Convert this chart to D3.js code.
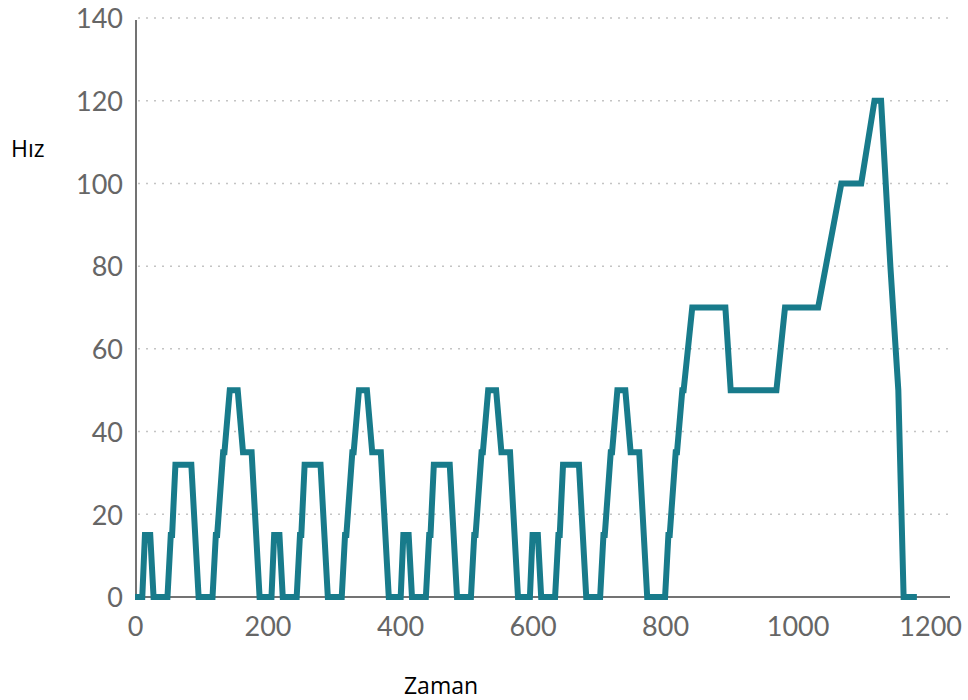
<!DOCTYPE html>
<html>
<head>
<meta charset="utf-8">
<script src="https://cdn.jsdelivr.net/npm/d3@7"></script>
<style>
  body { margin: 0; background: #fff; }
  .tick text { font-family: Lato, "Open Sans", sans-serif; font-weight: 400; fill: #666; }
  .axis-title { font-family: "Open Sans", sans-serif; fill: #000; }
</style>
</head>
<body>
<div id="chart-area"></div>
<script>
/*
*    speed profile (Zaman / Hız)
*/
var times = [
  0, 11, 15, 23, 28, 49, 54, 56, 61, 85, 96, 117, 122, 124, 133, 135, 143, 155, 163, 176, 188,
  195, 206, 210, 218, 223, 244, 249, 251, 256, 280, 291, 312, 317, 319, 328, 330, 338, 350, 358, 371, 383,
  390, 401, 405, 413, 418, 439, 444, 446, 451, 475, 486, 507, 512, 514, 523, 525, 533, 545, 553, 566, 578,
  585, 596, 600, 608, 613, 634, 639, 641, 646, 670, 681, 702, 707, 709, 718, 720, 728, 740, 748, 761, 773,
  800, 805, 807, 816, 818, 826, 828, 841, 891, 899, 968, 981, 1031, 1066, 1096, 1116, 1126, 1140, 1152, 1160, 1180
];
var speeds = [
  0, 0, 15, 15, 0, 0, 15, 15, 32, 32, 0, 0, 15, 15, 35, 35, 50, 50, 35, 35, 0,
  0, 0, 15, 15, 0, 0, 15, 15, 32, 32, 0, 0, 15, 15, 35, 35, 50, 50, 35, 35, 0,
  0, 0, 15, 15, 0, 0, 15, 15, 32, 32, 0, 0, 15, 15, 35, 35, 50, 50, 35, 35, 0,
  0, 0, 15, 15, 0, 0, 15, 15, 32, 32, 0, 0, 15, 15, 35, 35, 50, 50, 35, 35, 0,
  0, 15, 15, 35, 35, 50, 50, 70, 70, 50, 50, 70, 70, 100, 100, 120, 120, 80, 50, 0, 0
];
var xTicks = [0, 200, 400, 600, 800, 1000, 1200];
var yTicks = [0, 20, 40, 60, 80, 100, 120, 140];

var width = 968
var height = 700

var svg = d3.select("#chart-area")
  .append("svg")
  .attr("width", width)
  .attr("height", height)

var data = times.map((t, i) => { return { t: t, v: speeds[i] }; });

var x = d3.scaleLinear().domain([0, 1230]).range([135, 950]);
var y = d3.scaleLinear().domain([0, 140]).range([597, 18]);

// dotted grid
svg.append("g")
  .selectAll("line")
  .data(yTicks.filter((d) => { return d > 0; }))
  .enter().append("line")
  .attr("x1", x(0) + 3)
  .attr("x2", 953)
  .attr("y1", (d) => { return y(d); })
  .attr("y2", (d) => { return y(d); })
  .attr("stroke", "#c4c4c4")
  .attr("stroke-width", 1.5)
  .attr("stroke-dasharray", "2,6");

var leftAxis = d3.axisLeft(y).tickValues(yTicks).tickSize(0).tickPadding(13);
var bottomAxis = d3.axisBottom(x).tickValues(xTicks).tickSize(0).tickPadding(20)
  .tickFormat(d3.format("d"));

var yAxisGroup = svg.append("g")
  .attr("class", "left axis")
  .attr("transform", `translate(${x(0) + 1}, 0)`)
  .call(leftAxis);

var xAxisGroup = svg.append("g")
  .attr("class", "bottom axis")
  .attr("transform", `translate(0, ${y(0)})`)
  .call(bottomAxis);

svg.selectAll(".axis .domain").remove();
svg.selectAll(".tick text").attr("font-size", "27px");
yAxisGroup.selectAll(".tick text").attr("dy", "0.36em");

svg.append("line")
  .attr("x1", x(0) + 1).attr("x2", x(0) + 1)
  .attr("y1", y(140) + 2).attr("y2", y(0))
  .attr("stroke", "#444").attr("stroke-width", 1.5);
svg.append("line")
  .attr("x1", x(0)).attr("x2", 950)
  .attr("y1", y(0)).attr("y2", y(0))
  .attr("stroke", "#444").attr("stroke-width", 1.5);

var line = d3.line()
  .x((d) => { return x(d.t); })
  .y((d) => { return y(d.v); });

svg.append("path")
  .datum(data)
  .attr("d", line)
  .attr("fill", "none")
  .attr("stroke", "#187b8b")
  .attr("stroke-width", 6);

svg.append("text")
  .attr("class", "axis-title")
  .attr("x", 11)
  .attr("y", 157)
  .attr("font-size", "23px")
  .text("Hız");

svg.append("text")
  .attr("class", "axis-title")
  .attr("x", 441)
  .attr("y", 694)
  .attr("font-size", "23px")
  .attr("text-anchor", "middle")
  .text("Zaman");
</script>
</body>
</html>
